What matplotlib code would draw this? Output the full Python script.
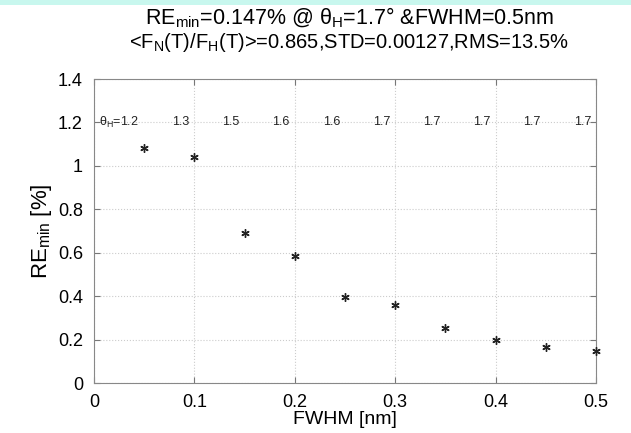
import matplotlib

matplotlib.use("Agg")
import matplotlib.pyplot as plt
from matplotlib.patches import Rectangle

plt.rcParams["font.family"] = ["Liberation Sans", "DejaVu Sans"]
plt.rcParams["mathtext.fontset"] = "custom"
plt.rcParams["mathtext.rm"] = "Liberation Sans"
plt.rcParams["mathtext.it"] = "Liberation Sans:italic"

# data
fwhm = [0.05, 0.10, 0.15, 0.20, 0.25, 0.30, 0.35, 0.40, 0.45, 0.50]
re_min = [1.08, 1.04, 0.69, 0.585, 0.395, 0.36, 0.255, 0.20, 0.167, 0.147]
theta_h = ["1.2", "1.3", "1.5", "1.6", "1.6", "1.7", "1.7", "1.7", "1.7", "1.7"]
xticks = [0, 0.1, 0.2, 0.3, 0.4, 0.5]
xtick_labels = ["0", "0.1", "0.2", "0.3", "0.4", "0.5"]
yticks = [0, 0.2, 0.4, 0.6, 0.8, 1.0, 1.2, 1.4]
ytick_labels = ["0", "0.2", "0.4", "0.6", "0.8", "1", "1.2", "1.4"]
label_y = 1.2

fig = plt.figure(figsize=(6.31, 4.33), dpi=100)
fig.patches.append(Rectangle((0, 1 - 5 / 433), 1, 5 / 433, transform=fig.transFigure,
                             facecolor="#c8f7ee", edgecolor="none"))
ax = fig.add_axes([94 / 631, 1 - 383 / 433, (596 - 94) / 631, (383 - 79) / 433])

ax.plot(fwhm, re_min, ls="none", marker=(6, 2, 0), color="#222222", ms=6, mew=1.0,
        clip_on=False, zorder=3)

for i, (x, t) in enumerate(zip(fwhm, theta_h)):
    s = r"θ$_{\rm H}$=" + t if i == 0 else t
    ax.text(x - 0.005, label_y, s, ha="right", va="center", fontsize=9, color="#222222")

ax.set_xlim(0, 0.5)
ax.set_ylim(0, 1.4)
ax.set_xticks(xticks)
ax.set_xticklabels(xtick_labels)
ax.set_yticks(yticks)
ax.set_yticklabels(ytick_labels)
ax.tick_params(direction="in", top=True, right=True, labelsize=13, length=4,
               color="#777777", pad=8)
ax.grid(True, ls=":", color="#cccccc", lw=0.8)
for s in ax.spines.values():
    s.set_color("#888888")

ax.set_xlabel("FWHM [nm]", fontsize=14, labelpad=0)
ax.set_ylabel(r"RE$_{\rm min}$ [%]", fontsize=16, labelpad=3)

cx = 349 / 631
fig.text(cx, 1 - 18 / 433, r"RE$_{\rm min}$=0.147% @ θ$_{\rm H}$=1.7° &FWHM=0.5nm",
         ha="center", va="center", fontsize=15.5)
fig.text(cx, 1 - 43 / 433, r"<F$_{\rm N}$(T)/F$_{\rm H}$(T)>=0.865,STD=0.00127,RMS=13.5%",
         ha="center", va="center", fontsize=14.5)

fig.savefig("out.png", dpi=100)
